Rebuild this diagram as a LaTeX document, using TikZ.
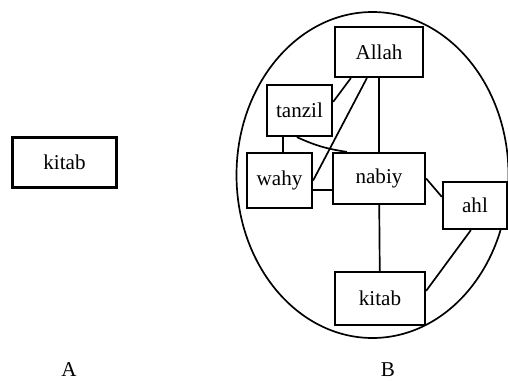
\documentclass[tikz,border=0pt]{standalone}
\usepackage{fontspec}
\setmainfont{Liberation Serif}
\usepackage{tikz}
\pgfdeclarelayer{bg}
\pgfsetlayers{bg,main}
\tikzset{
    box/.style={rectangle, draw, fill=white, line width=1.6pt, inner sep=0mm},
    link/.style={line width=1.2pt}
}

\begin{document}
\begin{tikzpicture}[font=\fontsize{15}{17}\selectfont]
        \useasboundingbox (0cm, 0cm) rectangle (12.7cm, -9.525cm);
        % left part
        \node (k0) [box, minimum width=2.6cm, minimum height=1.25cm] at (1.6125cm, -4.0625cm) {kitab};
        \node (la) at (1.725cm, -9.25cm) {A};
        % right part
        \node (al) [box, minimum width=2.2cm, minimum height=1.25cm] at (9.475cm, -1.3cm) {Allah};
        \node (ta) [box, minimum width=1.625cm, minimum height=1.275cm] at (7.4875cm, -2.7625cm) {tanzil};
        \node (wa) [box, minimum width=1.625cm, minimum height=1.375cm] at (6.9875cm, -4.5125cm) {wahy};
        \node (na) [box, minimum width=2.3cm, minimum height=1.275cm] at (9.475cm, -4.4625cm) {nabiy};
        \node (ah) [box, minimum width=1.6cm, minimum height=1.175cm] at (11.875cm, -5.1375cm) {ahl};
        \node (ki) [box, minimum width=2.25cm, minimum height=1.325cm] at (9.5cm, -7.4625cm) {kitab};
        \node (lb) at (9.7cm, -9.25cm) {B};
        \begin{pgfonlayer}{bg}
                \draw [line width=1.2pt] (9.3125cm, -4.375cm) ellipse [x radius=3.4cm, y radius=4.075cm];
                \draw [link] (al) -- (na);
                \draw [link] (na) -- (ki);
                \draw [link] ([xshift=4.25mm]al.south west) -- ([yshift=-4.5mm]ta.north east);
                \draw [link] ([xshift=8.25mm]al.south west) -- (wa.east);
                \draw [link] ([xshift=4.25mm]ta.south west) -- ([xshift=4.25mm]ta.south west |- wa.north);
                \draw [link] ([xshift=7.75mm]ta.south west) to [bend right=8] ([xshift=3.75mm]na.north west);
                \draw [link] ([yshift=-2.4mm]wa.east) -- ([yshift=-2.4mm]wa.east -| na.west);
                \draw [link] (na.east) -- ([yshift=-4mm]ah.north west);
                \draw [link] ([xshift=7.25mm]ah.south west) -- ([yshift=-5mm]ki.north east);
        \end{pgfonlayer}
\end{tikzpicture}
\end{document}
